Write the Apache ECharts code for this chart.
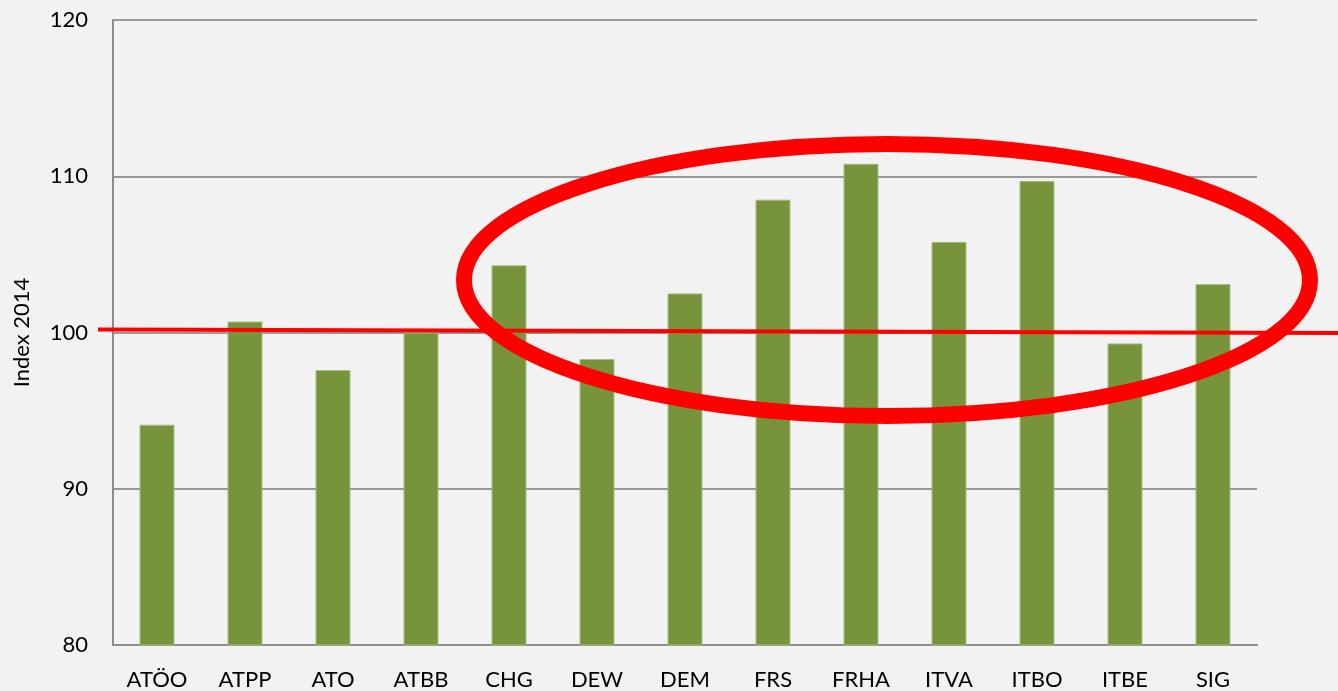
<!DOCTYPE html>
<html>
<head>
<meta charset="utf-8">
<script src="https://cdn.jsdelivr.net/npm/echarts@6/dist/echarts.min.js"></script>
<style>
  html, body { margin: 0; padding: 0; background: #f2f2f2; }
  #chart { width: 1338px; height: 691px; }
</style>
</head>
<body>
<div id="chart"></div>
<script>
const categories = ["ATÖO", "ATPP", "ATO", "ATBB", "CHG", "DEW", "DEM", "FRS", "FRHA", "ITVA", "ITBO", "ITBE", "SIG"];
const indexValues = [94.1, 100.7, 97.6, 100.0, 104.3, 98.3, 102.5, 108.5, 110.8, 105.8, 109.7, 99.3, 103.1];
const yTicks = [80, 90, 100, 110, 120];

const fontFamily = "Lato, 'Open Sans', sans-serif";
const chart = echarts.init(document.getElementById("chart"));

chart.setOption({
  backgroundColor: "#f2f2f2",
  animation: false,
  grid: {
    left: 113,
    right: 81,
    top: 20,
    bottom: 46,
  },
  xAxis: {
    type: "category",
    data: categories,
    axisLine: { lineStyle: { color: "#8c8c8c", width: 2 } },
    axisTick: { show: false },
    axisLabel: {
      color: "#000",
      fontSize: 22,
      fontFamily,
      margin: 24,
    },
  },
  yAxis: {
    type: "value",
    min: yTicks[0],
    max: yTicks[yTicks.length - 1],
    interval: 10,
    name: "Index 2014",
    nameLocation: "middle",
    nameGap: 80,
    nameRotate: 90,
    nameTextStyle: { color: "#000", fontSize: 22, fontFamily },
    axisLine: { show: true, lineStyle: { color: "#8c8c8c", width: 2 } },
    axisTick: { show: false },
    axisLabel: {
      color: "#000",
      fontSize: 22,
      fontFamily,
      margin: 25,
    },
    splitLine: { lineStyle: { color: "#999", width: 2 } },
  },
  series: [
    {
      type: "bar",
      data: indexValues,
      barWidth: 35,
      itemStyle: {
        color: "#77933c",
        borderColor: "#a6bd7c",
        borderWidth: 1,
      },
    },
  ],
  graphic: [
    {
      type: "line",
      shape: { x1: 98, y1: 329.5, x2: 1338, y2: 333 },
      style: { stroke: "#ff0000", lineWidth: 4 },
      z: 100,
    },
    {
      type: "ellipse",
      shape: { cx: 887, cy: 280, rx: 423, ry: 136 },
      style: { fill: null, stroke: "#ff0000", lineWidth: 16 },
      z: 100,
    },
  ],
});
</script>
</body>
</html>
